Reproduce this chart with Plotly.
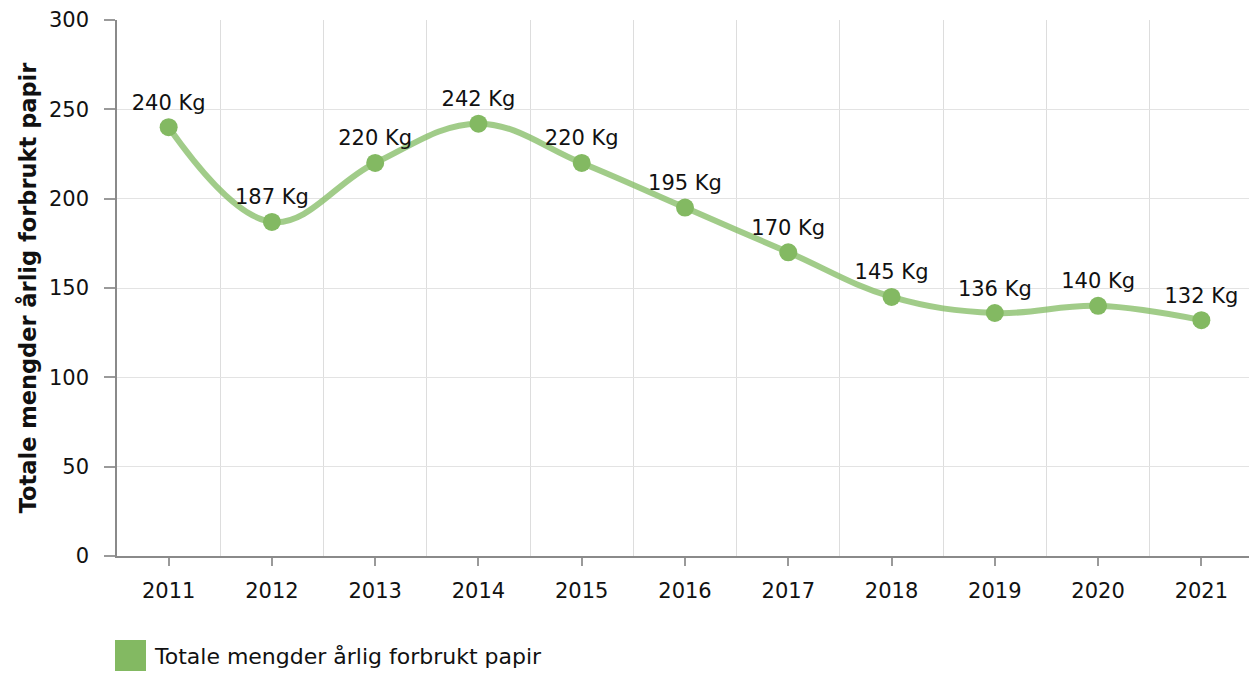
import plotly.graph_objects as go

years = ["2011", "2012", "2013", "2014", "2015", "2016", "2017", "2018", "2019", "2020", "2021"]
values = [240, 187, 220, 242, 220, 195, 170, 145, 136, 140, 132]
labels = [f"{v} Kg" for v in values]
series_name = "Totale mengder årlig forbrukt papir"
y_ticks = [0, 50, 100, 150, 200, 250, 300]

FONT = "Verdana, DejaVu Sans, sans-serif"
FS = 21
idx = list(range(len(years)))

# page body has an 8px margin; compensate so the plot lands where the reference has it
W, H = 1249, 665
L, R, T, B = 109, 4, 12, 117
PW, PH = W - L - R, H - T - B

fig = go.Figure()
fig.add_trace(go.Scatter(
    x=idx, y=values, mode="lines+markers+text",
    line=dict(color="rgba(130,187,98,0.75)", width=6, shape="spline", smoothing=1.1),
    marker=dict(color="#83b962", size=18),
    text=labels, textposition="top center",
    textfont=dict(family=FONT, size=FS, color="#111"),
    name=series_name, showlegend=False, cliponaxis=False,
))

fig.update_layout(
    width=W, height=H,
    margin=dict(l=L, r=R, t=T, b=B, autoexpand=False),
    plot_bgcolor="white", paper_bgcolor="white",
    font=dict(family=FONT, size=FS, color="#111"),
    showlegend=False,
    xaxis=dict(
        automargin=False,
        range=[-0.5, len(years) - 0.5],
        tickvals=idx, ticktext=years,
        showgrid=False, zeroline=False,
        showline=True, linecolor="#8a8a8a", linewidth=1.5,
        ticks="outside", ticklen=8, tickcolor="#9a9a9a", tickwidth=1.5,
        ticklabelstandoff=7,
        minor=dict(tickmode="linear", tick0=0.5, dtick=1, showgrid=True,
                   gridcolor="#dddddd", gridwidth=1.2, ticks=""),
        tickfont=dict(family=FONT, size=FS, color="#111"),
        fixedrange=True,
    ),
    yaxis=dict(
        automargin=False,
        range=[0, 300], tickvals=y_ticks,
        showgrid=True, gridcolor="#e3e3e3", gridwidth=1.2,
        zeroline=False,
        showline=True, linecolor="#8a8a8a", linewidth=1.5,
        ticks="outside", ticklen=11, tickcolor="#9a9a9a", tickwidth=1.5,
        ticklabelstandoff=11,
        tickfont=dict(family=FONT, size=FS, color="#111"),
        title=dict(text="<b>" + series_name + "</b>", font=dict(family=FONT, size=22.5, color="#111"), standoff=6),
        fixedrange=True,
    ),
)

# legend swatch + label (pixel positions converted to paper coordinates)
fig.add_shape(type="rect", xref="paper", yref="paper",
              x0=(115 - 117) / PW, x1=(146 - 117) / PW,
              y0=-(640 - 556) / PH, y1=-(671 - 556) / PH,
              fillcolor="#83b962", line=dict(width=0))
fig.add_annotation(xref="paper", yref="paper", x=(152 - 117) / PW, y=-(656 - 556) / PH,
                   text=series_name, showarrow=False, xanchor="left", yanchor="middle",
                   font=dict(family=FONT, size=22, color="#111"))

fig.write_html("out.html")
